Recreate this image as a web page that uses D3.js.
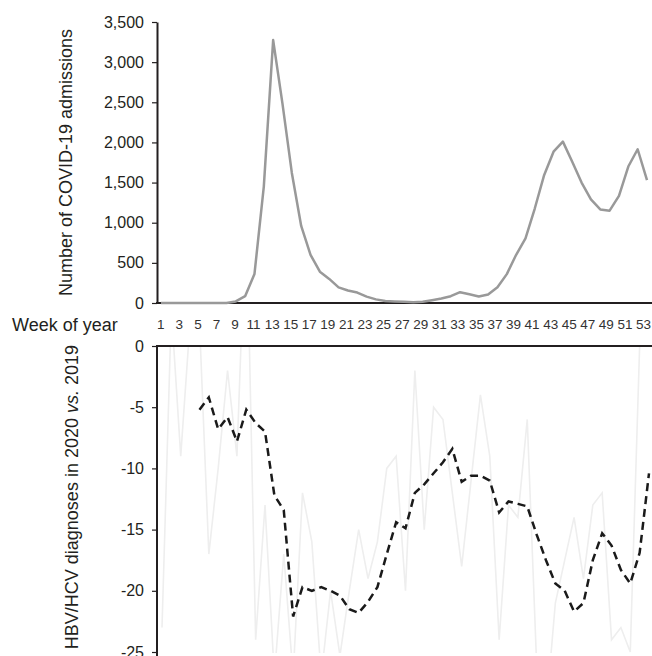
<!DOCTYPE html>
<html>
<head>
<meta charset="utf-8">
<script src="https://d3js.org/d3.v7.min.js"></script>
<style>
  body { margin: 0; background: #fff; }
  text { font-family: "Liberation Sans", Arial, sans-serif; fill: #231f20; }
</style>
</head>
<body>
<svg id="chart" width="652" height="656"></svg>
<script>

// weeks of 2020
var weeks = [1,2,3,4,5,6,7,8,9,10,11,12,13,14,15,16,17,18,19,20,21,22,23,24,25,26,
  27,28,29,30,31,32,33,34,35,36,37,38,39,40,41,42,43,44,45,46,47,48,49,50,51,52,53];

// weekly COVID-19 admissions
var admissions = [0,0,0,0,0,0,0,0,20,85,360,1450,3275,2480,1620,960,600,390,300,195,
  155,130,80,45,25,20,15,10,15,35,55,85,135,110,80,105,195,360,600,805,1180,1595,1885,
  2010,1760,1500,1290,1165,1150,1335,1700,1915,1530];

// weekly % change of diagnoses, 2020 vs 2019 (weeks 1-52)
var weeklyChange = [-23,3,-9,2,2,-17,-10,-2,-9,12,-24,-13,-27,-17,-27,-12,-16,-27,-20,
  -25.3,-20,-15,-19,-16,-10,-9,-20,-2,-15,-5,-6,-12,-18,-11,-4,-9,-24,-13,-14,-6,-26,
  -30,-21,-17.5,-14,-19,-13,-12,-24,-23,-25,0];

// moving average of the % change (weeks 5-53)
var avgWeeks = [5,6,7,8,9,10,11,12,13,14,15,16,17,18,19,20,21,22,23,24,25,26,27,28,29,
  30,31,32,33,34,35,36,37,38,39,40,41,42,43,44,45,46,47,48,49,50,51,52,53];
var avgChange = [-5.2,-4.2,-6.8,-5.8,-7.8,-5.2,-6.3,-7.0,-12.2,-13.4,-22.1,-19.7,-20.0,
  -19.7,-20.0,-20.4,-21.5,-21.8,-20.9,-19.7,-17.0,-14.4,-14.9,-12.0,-11.3,-10.4,-9.5,
  -8.4,-11.1,-10.6,-10.6,-11.0,-13.6,-12.7,-12.9,-13.1,-15.4,-17.5,-19.4,-20.0,-21.7,
  -21.0,-17.5,-15.3,-16.3,-18.3,-19.4,-16.9,-10.4];

var topTicks = [0,500,1000,1500,2000,2500,3000,3500];
var bottomTicks = [0,-5,-10,-15,-20,-25];
var weekLabels = weeks.filter(function(w){ return w % 2 == 1; });

var svg = d3.select("#chart");
var axisX = 157;

// scales
var xTop = d3.scaleLinear().domain([1,53]).range([161,647]);
var xLab = d3.scaleLinear().domain([1,53]).range([160.8,643.5]);
var xBot = d3.scaleLinear().domain([1,53]).range([162,649]);
var yTop = d3.scaleLinear().domain([0,3500]).range([303,22]);
var yBot = d3.scaleLinear().domain([0,-25]).range([346,652]);

// ---- top panel ----
var gTop = svg.append("g")
  .attr("transform", "translate(" + axisX + ",0)")
  .call(d3.axisLeft(yTop).tickValues(topTicks).tickFormat(d3.format(","))
    .tickSize(5).tickSizeOuter(0).tickPadding(8));
gTop.selectAll("text").style("font-size", "16px");

svg.append("line")
  .attr("x1", axisX - 1).attr("x2", 652)
  .attr("y1", yTop(0)).attr("y2", yTop(0))
  .attr("stroke", "#231f20").attr("stroke-width", 2);

svg.append("path")
  .datum(weeks)
  .attr("fill", "none")
  .attr("stroke", "#999999")
  .attr("stroke-width", 2.5)
  .attr("stroke-linejoin", "round")
  .attr("d", d3.line()
    .x(function(w){ return xTop(w); })
    .y(function(w, i){ return yTop(admissions[i]); }));

// week numbers
svg.append("g").selectAll("text")
  .data(weekLabels)
  .enter()
  .append("text")
  .attr("x", function(w){ return xLab(w); })
  .attr("y", 325)
  .attr("text-anchor", "middle")
  .attr("dominant-baseline", "middle")
  .style("font-size", "13.5px")
  .style("fill", "#333")
  .text(function(w){ return w; });

svg.append("text")
  .attr("x", 12).attr("y", 331)
  .style("font-size", "18px")
  .text("Week of year");

// ---- bottom panel ----
svg.append("clipPath").attr("id", "clipBot")
  .append("rect")
  .attr("x", axisX).attr("y", 346)
  .attr("width", 652 - axisX).attr("height", 307);

var gBot = svg.append("g")
  .attr("transform", "translate(" + axisX + ",0)")
  .call(d3.axisLeft(yBot).tickValues(bottomTicks).tickFormat(function(d){ return d; })
    .tickSize(5).tickSizeOuter(0).tickPadding(8));
gBot.selectAll("text").style("font-size", "16px");
gBot.select(".domain").attr("d", "M0,346V660");

svg.append("path")
  .datum(weeklyChange)
  .attr("clip-path", "url(#clipBot)")
  .attr("fill", "none")
  .attr("stroke", "#eeeeee")
  .attr("stroke-width", 1.6)
  .attr("d", d3.line()
    .x(function(v, i){ return xBot(weeks[i]); })
    .y(function(v){ return yBot(v); }));

svg.append("path")
  .datum(avgChange)
  .attr("fill", "none")
  .attr("stroke", "#1a1a1a")
  .attr("stroke-width", 2.5)
  .attr("stroke-dasharray", "8,5")
  .attr("d", d3.line()
    .x(function(v, i){ return xBot(avgWeeks[i]); })
    .y(function(v){ return yBot(v); }));

svg.append("line")
  .attr("x1", axisX - 1).attr("x2", 652)
  .attr("y1", yBot(0)).attr("y2", yBot(0))
  .attr("stroke", "#231f20").attr("stroke-width", 2);

// style both axes
svg.selectAll(".domain").attr("stroke", "#231f20").attr("stroke-width", 2);
svg.selectAll(".tick line").attr("stroke", "#231f20").attr("stroke-width", 1.2);

// axis titles
svg.append("text")
  .attr("transform", "translate(72,162.5) rotate(-90)")
  .attr("text-anchor", "middle")
  .style("font-size", "18px")
  .text("Number of COVID-19 admissions");

var t2 = svg.append("text")
  .attr("transform", "translate(78,345) rotate(-90)")
  .attr("text-anchor", "end")
  .style("font-size", "18px");
t2.append("tspan").text("HBV/HCV diagnoses in 2020 ");
t2.append("tspan").style("font-style", "italic").text("vs.");
t2.append("tspan").text(" 2019");

</script>
</body>
</html>
